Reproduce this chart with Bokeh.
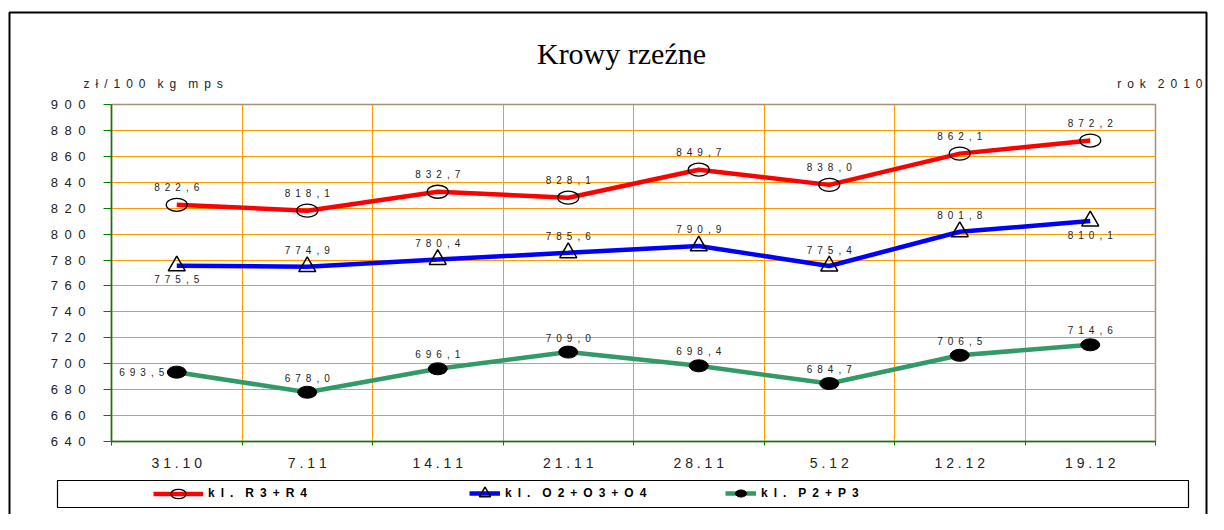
import numpy as np
from bokeh.plotting import figure
from bokeh.models import (Range1d, FixedTicker, Label, Legend, LegendItem,
                          BoxAnnotation, ColumnDataSource)
from bokeh.core.properties import value
from bokeh.embed import file_html
from bokeh.resources import INLINE

# ---------------- data ----------------
dates = ["31.10", "7.11", "14.11", "21.11", "28.11", "5.12", "12.12", "19.12"]
r_vals = [822.6, 818.1, 832.7, 828.1, 849.7, 838.0, 862.1, 872.2]
o_vals = [775.5, 774.9, 780.4, 785.6, 790.9, 775.4, 801.8, 810.1]
p_vals = [693.5, 678.0, 696.1, 709.0, 698.4, 684.7, 706.5, 714.6]
series_names = ["kl. R3+R4", "kl. O2+O3+O4", "kl. P2+P3"]
y_ticks = list(range(640, 901, 20))
y_min, y_max = 640, 900
title_text = "Krowy rzeźne"
unit_text = "zł/100 kg mps"
year_text = "rok 2010"
# label placement for each point
r_place = ["above"] * 8
o_place = ["below", "above", "above", "above", "above", "above", "above", "below"]
p_place = ["left", "above", "above", "above", "above", "above", "above", "above"]

EN = "\u2002"
FONT = "Liberation Sans"


def spaced(s, gap=EN):
    words = s.split(" ")
    return (gap + gap).join(gap.join(w) for w in words)


def fmt(v):
    return spaced(f"{v:.1f}".replace(".", ","))


# ---------------- layout (pixels) ----------------
W, H = 1208, 514
PL, PR, PT, PB = 111, 1155, 104, 441          # plot area in canvas pixels
n = len(dates)
xpp = n / (PR - PL)                            # data units per pixel (x)
ypp = (y_max - y_min) / (PB - PT)              # data units per pixel (y)


def X(px):
    return (px - PL) * xpp


def Y(py):
    return y_max - (py - PT) * ypp


p = figure(width=W, height=H, output_backend="svg", toolbar_location=None,
           title=None, x_range=Range1d(X(0), X(W)), y_range=Range1d(Y(H), Y(0)),
           min_border=0, min_border_left=0, min_border_right=0,
           min_border_top=0, min_border_bottom=0)
p.background_fill_color = "white"
p.border_fill_color = "white"
p.outline_line_color = None

xs = np.arange(n) + 0.5

# plot-area box (tan top/right edges)
p.add_layout(BoxAnnotation(left=0, right=n, bottom=y_min, top=y_max,
                           fill_alpha=0, line_color="#A89070", line_width=1.5,
                           line_alpha=1, level="underlay"))

# axes, fixed at the plot-area edges
xa = p.xaxis[0]
xa.fixed_location = y_min
xa.bounds = (0, n)
xa.ticker = FixedTicker(ticks=list(xs), minor_ticks=list(range(n + 1)))
xa.major_label_overrides = {float(x): " ".join(d) for x, d in zip(xs, dates)}
xa.major_tick_out = 0
xa.major_tick_in = 0
xa.minor_tick_out = 4
xa.minor_tick_in = 0
xa.minor_tick_line_color = "#008000"
xa.axis_line_color = "#008000"
xa.axis_line_width = 1.5
xa.major_label_text_font = FONT
xa.major_label_text_font_size = "14px"
xa.major_label_text_color = "#222222"
xa.major_label_standoff = 9

ya = p.yaxis[0]
ya.fixed_location = 0
ya.bounds = (y_min, y_max)
ya.ticker = FixedTicker(ticks=y_ticks, minor_ticks=[])
ya.major_label_overrides = {t: spaced(str(t)) for t in y_ticks}
ya.major_tick_out = 8
ya.major_tick_in = 0
ya.major_tick_line_color = "#008000"
ya.axis_line_color = "#008000"
ya.axis_line_width = 1.5
ya.major_label_text_font = FONT
ya.major_label_text_font_size = "13px"
ya.major_label_text_color = "#222222"
ya.major_label_standoff = 18

p.xgrid.ticker = FixedTicker(ticks=list(range(1, n)))
p.xgrid.cross_bounds = (y_min, y_max)
p.xgrid.grid_line_color = "#FF9900"
p.xgrid.grid_line_width = 1
p.ygrid.ticker = FixedTicker(ticks=y_ticks[1:-1])
p.ygrid.cross_bounds = (0, n)
p.ygrid.grid_line_color = "#FF9900"
p.ygrid.grid_line_width = 1

# series
red, blue, green = "#FF0000", "#0000FF", "#339966"
r_line = p.line(xs, r_vals, line_color=red, line_width=4.5)
o_line = p.line(xs, o_vals, line_color=blue, line_width=4.5)
p_line = p.line(xs, p_vals, line_color=green, line_width=4.5)

r_mark = p.ellipse(xs, r_vals, width=21, height=13, width_units="screen",
                   height_units="screen", fill_alpha=0, line_color="black",
                   line_width=1.3)
o_mark = p.scatter(xs, o_vals, marker="triangle", size=17, fill_alpha=0,
                   line_color="black", line_width=1.5)
p_mark = p.ellipse(xs, p_vals, width=19, height=12, width_units="screen",
                   height_units="screen", fill_color="black", line_color="black")

# data labels
off_r = {"above": (0, -17)}
off_o = {"above": (0, -16), "below": (0, 14)}
off_p = {"above": (0, -14), "left": (-35, 0)}
for vals, place, off in ((r_vals, r_place, off_r), (o_vals, o_place, off_o),
                         (p_vals, p_place, off_p)):
    src = ColumnDataSource(dict(
        x=xs, y=vals, t=[fmt(v) for v in vals],
        dx=[off[k][0] for k in place], dy=[off[k][1] for k in place]))
    p.text("x", "y", text="t", x_offset="dx", y_offset="dy", source=src,
           text_font=value(FONT), text_font_size="10px", text_color="#222222",
           text_align="center", text_baseline="middle")

# texts around the plot
p.add_layout(Label(x=X(621), y=Y(53), text=title_text,
                   text_font="Liberation Serif", text_font_size="30px",
                   text_align="center", text_baseline="alphabetic",
                   text_color="black"))
p.add_layout(Label(x=X(83), y=Y(83), text=spaced(unit_text), text_font=FONT,
                   text_font_size="12px", text_align="left",
                   text_baseline="alphabetic", text_color="#222222"))
p.add_layout(Label(x=X(1202), y=Y(83), text=spaced(year_text), text_font=FONT,
                   text_font_size="12px", text_align="right",
                   text_baseline="alphabetic", text_color="#222222"))

# legend box and outer frame
p.add_layout(BoxAnnotation(left=X(57), right=X(1188), top=Y(480), bottom=Y(507),
                           fill_alpha=0, line_color="black", line_width=1.2,
                           line_alpha=1))
p.add_layout(BoxAnnotation(left=X(9), right=X(W - 2), top=Y(12), bottom=Y(H + 20),
                           fill_alpha=0, line_color="black", line_width=2,
                           line_alpha=1))

# legends, one per item (location in pixels from the canvas bottom-left)
leg_cy = H - 493
leg_specs = [
    (series_names[0], [r_line, r_mark], 153, 50, 19),
    (series_names[1], [o_line, o_mark], 469, 31, 28),
    (series_names[2], [p_line, p_mark], 725, 31, 14),
]
for name, rends, lx, gw, gh in leg_specs:
    leg = Legend(items=[LegendItem(label=spaced(name), renderers=rends)],
                 location=(lx, leg_cy - gh / 2), orientation="horizontal",
                 glyph_width=gw, glyph_height=gh, label_standoff=5,
                 padding=0, margin=0, spacing=0,
                 border_line_alpha=0, background_fill_alpha=0,
                 label_text_font=FONT, label_text_font_size="12px",
                 label_text_font_style="bold", label_text_color="black",
                 label_height=gh)
    p.add_layout(leg, "center")

open("out.html", "w").write(file_html(p, INLINE))
